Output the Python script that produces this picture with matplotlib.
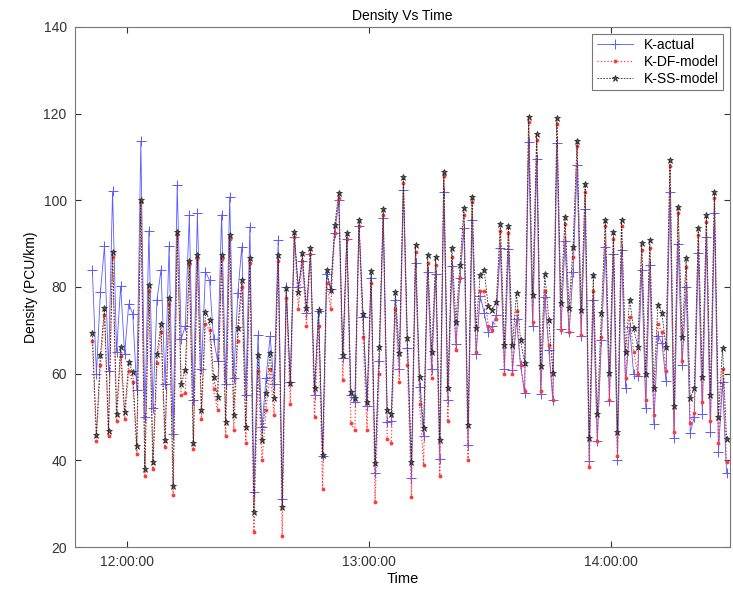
import matplotlib.pyplot as plt
import numpy as np
from matplotlib.ticker import FuncFormatter

plt.rcParams["font.family"] = ["Liberation Sans", "DejaVu Sans"]

# 时间：每分钟一个点，从 11:51:30 开始（以当天分钟数表示）
start_min = 11 * 60 + 51.5

# K-SS-model
k_ss = [69.4, 45.9, 64.3, 75.1, 46.7, 88.1, 50.7, 66.2, 51.1, 62.6, 60.3, 43.2, 100.1, 38.0, 80.5, 39.5,
        64.5, 71.4, 44.8, 77.4, 34.0, 92.8, 57.6, 60.8, 86.0,
        44.0, 87.4, 51.6, 74.3, 72.4, 59.3, 54.7, 87.4, 48.9, 92.0, 50.5, 70.5, 81.6, 47.8, 86.6, 28.1,
        64.3, 44.7, 55.5, 64.8, 54.3, 87.4, 29.3, 79.7, 57.8,
        92.8, 78.9, 87.8, 75.1, 88.9, 56.6, 74.7, 41.2, 83.9, 79.3, 94.3, 101.7, 64.3, 92.4, 55.8, 54.3,
        95.5, 73.8, 53.5, 83.8, 39.3, 66.2, 98.0, 51.6, 50.8, 78.9,
        64.8, 105.3, 68.2, 39.7, 89.7, 59.3, 47.4, 87.4, 65.1, 86.9, 44.7, 106.6, 56.6, 88.9, 72.0, 85.1,
        98.2, 48.2, 100.8, 70.5, 82.8, 83.9, 75.5, 74.7, 76.6, 94.5, 66.6,
        94.1, 66.6, 78.5, 67.8, 62.4, 119.3, 78.2, 115.3, 61.8, 83.0, 72.4, 60.2, 118.9, 76.2, 96.2, 75.1,
        89.3, 113.8, 74.8, 103.8, 45.1, 82.8, 50.8, 73.9, 95.5, 60.2, 92.8,
        46.6, 95.5, 64.9, 77.0, 70.5, 66.2, 90.1, 60.0, 90.8, 56.6, 75.9, 73.9, 66.2, 109.2, 52.5, 98.5,
        68.5, 86.6, 54.3, 56.6, 93.6, 59.3, 96.6, 55.1, 102.0, 50.0, 66.0, 45.0]

# K-DF-model
k_df = [67.5, 44.5, 62.0, 73.5, 45.5, 87.0, 49.0, 64.0, 49.5, 60.5, 58.0, 41.5, 99.5, 36.5, 79.0, 38.0,
        62.5, 69.5, 43.0, 76.0, 32.0, 92.0, 55.0, 55.5, 85.0,
        42.5, 86.5, 49.5, 71.5, 70.0, 56.5, 51.5, 86.5, 45.5, 91.0, 47.0, 67.5, 80.0, 44.0, 85.5, 23.5,
        60.5, 40.0, 51.5, 61.0, 50.5, 86.0, 22.5, 77.5, 53.0,
        91.5, 75.0, 86.0, 71.0, 87.5, 50.0, 71.0, 33.5, 81.0, 75.0, 92.5, 100.5, 58.5, 91.0, 48.5, 47.0,
        94.0, 68.5, 47.0, 81.0, 30.5, 60.0, 96.5, 45.0, 44.0, 75.0,
        58.0, 104.0, 62.0, 31.5, 88.0, 53.0, 39.0, 85.5, 59.0, 85.0, 36.5, 105.5, 49.0, 87.0, 65.5, 82.0,
        96.5, 40.0, 99.5, 65.0, 79.0, 79.0, 71.0, 70.0, 72.5, 93.0, 60.0,
        92.5, 60.0, 74.5, 62.0, 56.0, 118.0, 72.0, 114.0, 56.0, 79.0, 66.5, 54.0, 117.5, 70.0, 94.5, 69.5,
        87.0, 112.5, 69.0, 102.0, 38.5, 79.0, 44.5, 68.5, 94.0, 54.0, 91.0,
        41.0, 94.0, 59.0, 73.0, 65.0, 60.0, 88.5, 54.0, 89.0, 50.5, 71.5, 69.5, 60.5, 108.0, 46.5, 97.0,
        63.0, 84.5, 48.5, 51.0, 92.0, 53.5, 95.0, 49.0, 100.5, 44.0, 61.0, 39.5]

# K-actual
k_actual = [83.9, 59.9, 78.8, 89.5, 60.7, 102.1, 65.0, 80.2, 64.6, 76.1, 73.8, 56.2, 113.6, 50.0, 93.0, 52.0,
            77.0, 84.0, 57.5, 89.5, 46.0, 103.5, 68.0, 71.0, 96.5,
            54.0, 97.0, 61.0, 83.5, 81.6, 68.0, 63.0, 96.7, 57.5, 100.8, 59.0, 78.5, 89.3, 55.0, 93.9, 32.7,
            68.9, 47.7, 59.0, 68.6, 57.5, 90.9, 31.0, 80.1, 58.0,
            91.5, 80.0, 86.0, 74.0, 87.5, 55.0, 74.5, 41.0, 83.0, 79.5, 92.5, 100.0, 63.5, 91.0, 55.0, 53.5,
            94.0, 73.0, 52.5, 82.0, 37.0, 63.0, 96.0, 48.8, 49.0, 77.0,
            61.0, 102.4, 66.0, 35.9, 85.5, 57.0, 45.5, 83.5, 61.0, 83.0, 40.3, 102.0, 54.0, 84.8, 66.8, 82.0,
            93.5, 43.5, 95.5, 64.5, 78.0, 74.0, 69.5, 71.0, 73.5, 89.0, 61.0,
            88.8, 60.8, 72.5, 62.0, 55.5, 113.5, 71.0, 109.5, 55.2, 77.7, 65.5, 54.0, 113.2, 70.2, 90.5, 69.5,
            83.5, 108.1, 68.8, 98.0, 39.8, 77.0, 44.5, 67.8, 89.2, 53.8, 87.5,
            40.1, 88.6, 56.8, 70.8, 60.0, 59.5, 83.9, 52.0, 85.0, 48.3, 68.8, 67.0, 58.4, 101.9, 45.2, 90.0,
            62.0, 79.9, 46.4, 50.0, 87.8, 50.8, 91.5, 46.6, 97.0, 42.0, 58.0, 37.0]

time_min = start_min + np.arange(len(k_ss))

y_ticks = [20, 40, 60, 80, 100, 120, 140]
x_ticks = [12 * 60, 13 * 60, 14 * 60]


def fmt_time(v, pos):
    h = int(v // 60)
    m = int(round(v - h * 60))
    return f"{h:02d}:{m:02d}:00"


fig = plt.figure(figsize=(7.33, 5.89), dpi=100)
ax = fig.add_axes([0.1023, 0.0713, 0.8936, 0.8829])

ax.plot(time_min, k_actual, '-', color='#5a5aff', lw=0.6, marker='+', ms=7, mew=0.7,
        label='K-actual')
ax.plot(time_min, k_df, ':', color='#ff3a3a', lw=0.9, marker='.', ms=3.5,
        label='K-DF-model')
ax.plot(time_min, k_ss, '--', color='#2a2a2a', lw=0.6, marker='*', ms=5, mew=0.5,
        mfc='#555555', mec='#222222', dashes=(2, 1.5), label='K-SS-model')

ax.set_xlim(start_min - 4.3, start_min + 157.85)
ax.set_ylim(20, 140)
ax.set_yticks(y_ticks)
ax.set_xticks(x_ticks)
ax.xaxis.set_major_formatter(FuncFormatter(fmt_time))
ax.tick_params(direction='in', top=True, right=True, length=4, labelsize=10, colors='#333333')
ax.tick_params(axis='x', pad=6)
ax.tick_params(axis='y', pad=6)
for s in ax.spines.values():
    s.set_color('#777777')

ax.set_title("Density Vs Time", fontsize=10, pad=5)
ax.set_xlabel("Time", fontsize=10.5, labelpad=2)
ax.set_ylabel("Density (PCU/km)", fontsize=10, labelpad=4)

leg = ax.legend(loc='upper right', fontsize=10, fancybox=False, framealpha=1,
                edgecolor='#777777', handlelength=2.6, borderpad=0.3, labelspacing=0.2)
leg.get_frame().set_linewidth(0.8)

fig.savefig("out.png", dpi=100)
